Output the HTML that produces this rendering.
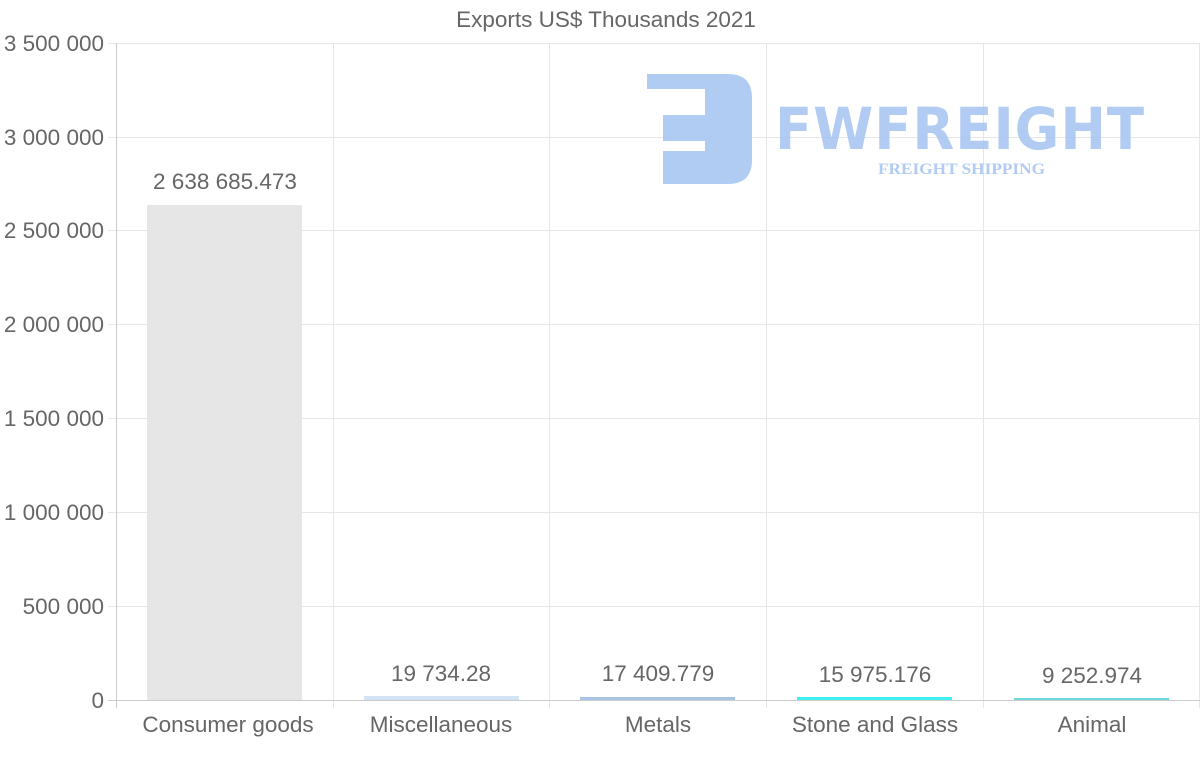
<!DOCTYPE html>
<html><head><style>
html,body{margin:0;padding:0;background:#fff;}
svg{display:block;font-family:"Liberation Sans",Arial,sans-serif;}
</style></head><body>
<svg width="1200" height="763" viewBox="0 0 1200 763">
<text x="606" y="27" text-anchor="middle" font-size="22.5" fill="#666">Exports US$ Thousands 2021</text>
<g stroke="#e6e6e6" stroke-width="1">
<line x1="108" y1="43.5" x2="1200" y2="43.5"/>
<line x1="108" y1="137.5" x2="1200" y2="137.5"/>
<line x1="108" y1="230.5" x2="1200" y2="230.5"/>
<line x1="108" y1="324.5" x2="1200" y2="324.5"/>
<line x1="108" y1="418.5" x2="1200" y2="418.5"/>
<line x1="108" y1="512.5" x2="1200" y2="512.5"/>
<line x1="108" y1="606.5" x2="1200" y2="606.5"/>
<line x1="333.5" y1="43" x2="333.5" y2="708"/>
<line x1="549.5" y1="43" x2="549.5" y2="708"/>
<line x1="766.5" y1="43" x2="766.5" y2="708"/>
<line x1="983.5" y1="43" x2="983.5" y2="708"/>
<line x1="1199.5" y1="43" x2="1199.5" y2="708"/>
</g>
<g stroke="#ccc"><line x1="116.5" y1="43" x2="116.5" y2="708"/><line x1="108" y1="700.5" x2="1200" y2="700.5"/></g>
<g font-size="22.5" fill="#666" text-anchor="end">
<text x="104" y="51">3 500 000</text>
<text x="104" y="145">3 000 000</text>
<text x="104" y="238">2 500 000</text>
<text x="104" y="332">2 000 000</text>
<text x="104" y="426">1 500 000</text>
<text x="104" y="520">1 000 000</text>
<text x="104" y="614">500 000</text>
<text x="104" y="708">0</text>
</g>
<g fill="#a9c6f2" opacity="0.9">
<path d="M647 74 H728 Q752 74 752 98 V160 Q752 184 728 184 H663 V151 H705 V141 H663 V115 H705 V89 H647 Z"/>
<text x="775" y="149" font-size="58" font-weight="bold" letter-spacing="1" textLength="370" lengthAdjust="spacingAndGlyphs" font-family="'DejaVu Sans',sans-serif">FWFREIGHT</text>
<text x="878" y="174" font-size="16" font-weight="bold" font-family="'Liberation Serif',serif" textLength="167" lengthAdjust="spacingAndGlyphs">FREIGHT SHIPPING</text>
</g>
<rect x="147" y="205" width="155" height="495" fill="#e6e6e6"/>
<rect x="364" y="696" width="155" height="4" fill="#d2e4f4"/>
<rect x="580" y="697" width="155" height="3" fill="#a6c4e4"/>
<rect x="797" y="697" width="155" height="3" fill="#3ff0f0"/>
<rect x="1014" y="698" width="155" height="2" fill="#6dd8d8"/>
<g font-size="22.5" fill="#666" text-anchor="middle">
<text x="225" y="189">2 638 685.473</text>
<text x="441" y="681">19 734.28</text>
<text x="658" y="681">17 409.779</text>
<text x="875" y="682">15 975.176</text>
<text x="1092" y="683">9 252.974</text>
<text x="228" y="732">Consumer goods</text>
<text x="441" y="732">Miscellaneous</text>
<text x="658" y="732">Metals</text>
<text x="875" y="732">Stone and Glass</text>
<text x="1092" y="732">Animal</text>
</g>
</svg>
</body></html>
